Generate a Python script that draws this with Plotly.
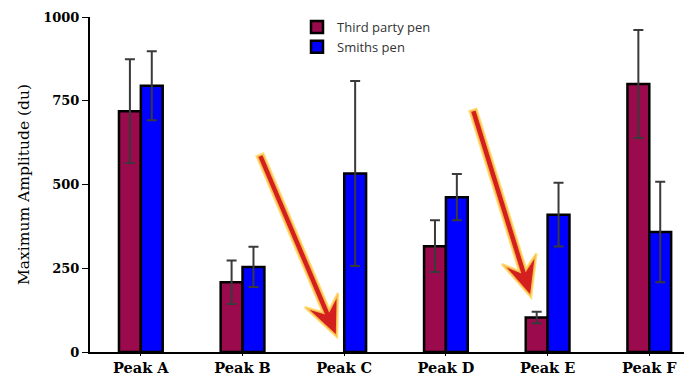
import math
import plotly.graph_objects as go

categories = ["Peak A", "Peak B", "Peak C", "Peak D", "Peak E", "Peak F"]
third_party = [719, 208, None, 316, 103, 800]
third_party_err = [155, 65, None, 77, 17, 161]
smiths = [795, 254, 533, 462, 410, 358]
smiths_err = [103, 60, 276, 69, 95, 150]
y_ticks = [0, 250, 500, 750, 1000]

MAROON = "#9A0A4C"
BLUE = "#0000FF"

# page offset of the figure (browser body margin)
OFF = 8
PLOT_L, PLOT_R, PLOT_T, PLOT_B = 90, 692, 17, 352  # plot area in page pixels
W, H = 692 - OFF, 376 - OFF

fig = go.Figure()
fig.add_trace(go.Bar(
    name="Third party pen", x=categories, y=third_party,
    marker=dict(color=MAROON, line=dict(color="black", width=2.5)),
    error_y=dict(type="data", array=third_party_err, visible=True,
                 color="#3a3a3a", thickness=2, width=5),
))
fig.add_trace(go.Bar(
    name="Smiths pen", x=categories, y=smiths,
    marker=dict(color=BLUE, line=dict(color="black", width=2.5)),
    error_y=dict(type="data", array=smiths_err, visible=True,
                 color="#3a3a3a", thickness=2, width=5),
))


def to_paper(px, py):
    return ((px - PLOT_L) / (PLOT_R - PLOT_L), (PLOT_B - py) / (PLOT_B - PLOT_T))


def arrow_path(tail, tip, head_len=40, head_half=18, notch=28, shaft_half=3.5):
    dx, dy = tip[0] - tail[0], tip[1] - tail[1]
    L = math.hypot(dx, dy)
    ux, uy = dx / L, dy / L
    px_, py_ = -uy, ux
    pts = []
    pts.append((tail[0] + px_ * shaft_half, tail[1] + py_ * shaft_half))
    nb = (tip[0] - ux * notch, tip[1] - uy * notch)
    pts.append((nb[0] + px_ * shaft_half, nb[1] + py_ * shaft_half))
    hb = (tip[0] - ux * head_len, tip[1] - uy * head_len)
    pts.append((hb[0] + px_ * head_half, hb[1] + py_ * head_half))
    pts.append(tip)
    pts.append((hb[0] - px_ * head_half, hb[1] - py_ * head_half))
    pts.append((nb[0] - px_ * shaft_half, nb[1] - py_ * shaft_half))
    pts.append((tail[0] - px_ * shaft_half, tail[1] - py_ * shaft_half))
    pp = [to_paper(x, y) for x, y in pts]
    return "M " + " L ".join(f"{x:.4f},{y:.4f}" for x, y in pp) + " Z"


arrows = [((260, 155), (337, 337)), ((473, 110), (531, 297))]
for tail, tip in arrows:
    fig.add_shape(type="path", xref="paper", yref="paper", path=arrow_path(tail, tip),
                  fillcolor="#D41F1F", line=dict(color="rgba(255,215,90,0.85)", width=2.5),
                  layer="above")

fig.update_layout(
    width=W, height=H,
    margin=dict(l=PLOT_L - OFF, r=0, t=PLOT_T - OFF, b=H - (PLOT_B - OFF), pad=0),
    paper_bgcolor="white", plot_bgcolor="white",
    barmode="group", bargap=0.57, bargroupgap=0,
    showlegend=True,
    legend=dict(x=(297 - PLOT_L) / (PLOT_R - PLOT_L), y=1.015, xanchor="left", yanchor="top",
                bgcolor="rgba(0,0,0,0)", tracegroupgap=0,
                font=dict(family="Open Sans", size=13, color="#333")),
    xaxis=dict(range=[-0.5, 5.42], showline=True, linecolor="black", linewidth=2,
               ticks="outside", ticklen=2, tickcolor="black", showgrid=False,
               automargin=False,
               tickfont=dict(family="DejaVu Serif", size=14.5, color="black", weight="bold")),
    yaxis=dict(range=[0, 1000], tickvals=y_ticks, showline=True, linecolor="black",
               linewidth=2, ticks="outside", ticklen=6, tickcolor="black",
               showgrid=False, zeroline=False, automargin=False,
               tickfont=dict(family="DejaVu Serif", size=13, color="black", weight="bold"),
               title=dict(text="Maximum Amplitude (du)", standoff=10,
                          font=dict(family="DejaVu Serif", size=15.5, color="black"))),
)

fig.write_html("out.html")
